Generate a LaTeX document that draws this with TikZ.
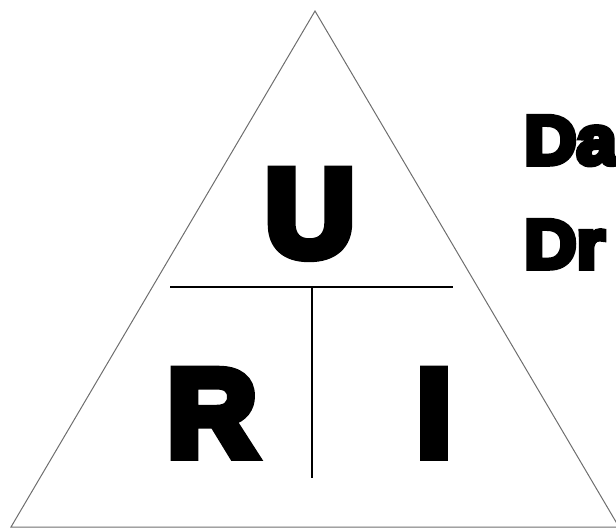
\documentclass[tikz,border=0pt]{standalone}
\usepackage{fontspec}
\newfontfamily\heavyfont{Liberation Sans Bold}[FakeBold=8]
\newfontfamily\widefont{Liberation Sans Bold}[FakeBold=8, FakeStretch=1.05]
\usepackage{tikz}
\definecolor{sidegray}{RGB}{110, 110, 110}

\begin{document}
\begin{tikzpicture}[
    x=1pt, y=-1pt,
    side/.style={draw=sidegray, line width=1pt, line join=miter},
    split/.style={draw=black, line width=1.6pt},
    letter/.style={font=\heavyfont\fontsize{124}{124}\selectfont, inner sep=0pt, anchor=base},
    title/.style={font=\widefont\fontsize{69}{69}\selectfont, inner sep=0pt, anchor=base west},
  ]
    \useasboundingbox (0,0) rectangle (616,528);
    \clip (0,0) rectangle (616,528);

    % Triangle
    \coordinate (top) at (315,11);
    \coordinate (left) at (11,527);
    \coordinate (right) at (619,527);
    \draw[side] (top) -- (right) -- (left) -- cycle;

    % Divider lines
    \coordinate (splitL) at (170,287);
    \coordinate (splitR) at (453,287);
    \coordinate (splitT) at (312,287);
    \coordinate (splitB) at (312,478);
    \draw[split] (splitL) -- (splitR);
    \draw[split] (splitT) -- (splitB);

    % Letters
    \node[letter] (volt) at (310,256) {U};
    \node[letter] (resist) at (212,456) {R};
    \node[letter] (curr) at (434,456) {I};

    % Title at the right edge
    \node[title] (line1) at (524,164) {Da};
    \node[title] (line2) at (524,268) {Dr};
  \end{tikzpicture}
\end{document}
